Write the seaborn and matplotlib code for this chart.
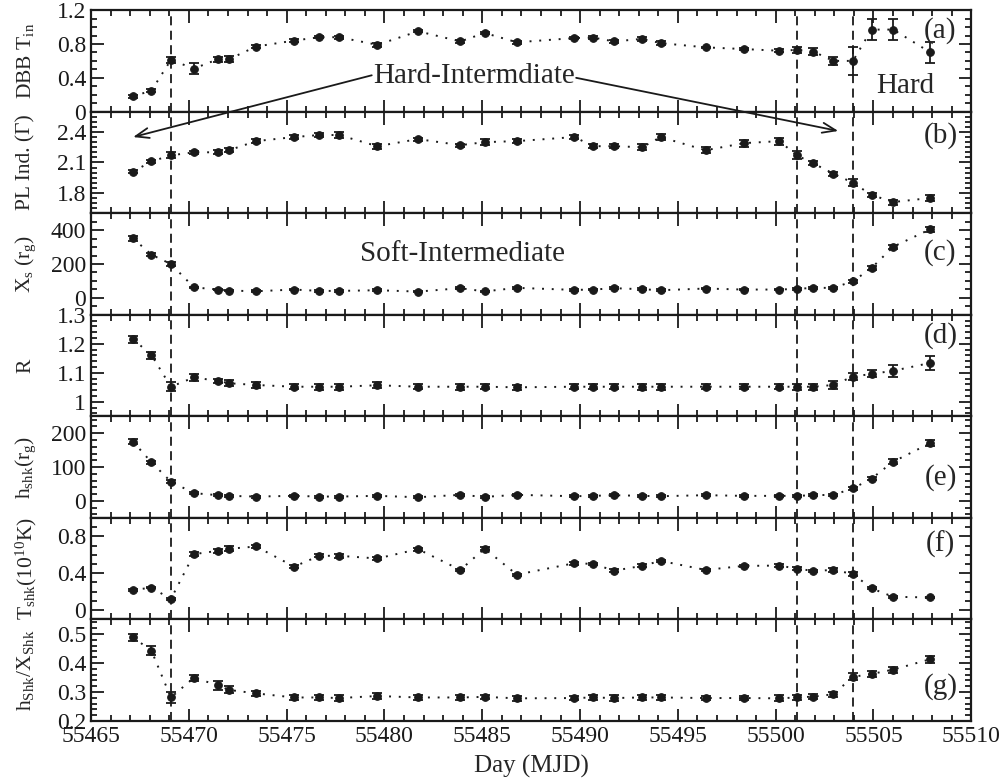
import matplotlib
matplotlib.use("Agg")
import matplotlib.pyplot as plt
from matplotlib.ticker import MultipleLocator, AutoMinorLocator, FuncFormatter
import seaborn as sns

# observation days (MJD)
days = [55467.15, 55468.09, 55469.08, 55470.26, 55471.49, 55472.05, 55473.44, 55475.38,
        55476.67, 55477.68, 55479.64, 55481.72, 55483.88, 55485.12, 55486.77, 55489.71,
        55490.68, 55491.74, 55493.17, 55494.12, 55496.42, 55498.37, 55500.19, 55501.08,
        55501.93, 55502.95, 55503.95, 55504.90, 55506.01, 55507.91]

# (a) DBB inner disk temperature
t_in = [0.18, 0.25, 0.61, 0.51, 0.62, 0.62, 0.77, 0.84, 0.88, 0.88, 0.79, 0.95, 0.83, 0.93, 0.82,
        0.87, 0.875, 0.83, 0.86, 0.81, 0.76, 0.74, 0.72, 0.73, 0.71, 0.60, 0.60, 0.97, 0.97, 0.70]
t_in_err = [0.015, 0.02, 0.04, 0.07, 0.03, 0.035, 0.02, 0.02, 0.015, 0.02, 0.02, 0.01, 0.02, 0.01, 0.015,
            0.015, 0.015, 0.015, 0.02, 0.02, 0.01, 0.01, 0.02, 0.04, 0.04, 0.05, 0.17, 0.12, 0.12, 0.12]

# (b) power-law index
gamma = [2.01, 2.11, 2.17, 2.20, 2.20, 2.22, 2.31, 2.35, 2.37, 2.37, 2.26, 2.33, 2.27, 2.30, 2.31,
         2.35, 2.26, 2.26, 2.25, 2.35, 2.22, 2.29, 2.31, 2.17, 2.09, 1.99, 1.90, 1.78, 1.71, 1.75]
gamma_err = [0.015, 0.015, 0.03, 0.015, 0.02, 0.02, 0.02, 0.02, 0.02, 0.025, 0.025, 0.015, 0.015, 0.03, 0.02,
             0.02, 0.02, 0.02, 0.03, 0.03, 0.03, 0.035, 0.035, 0.04, 0.02, 0.02, 0.035, 0.02, 0.025, 0.025]

# (c) shock location
x_s = [351, 255, 200, 62, 49, 43, 39, 49, 41, 41, 45, 37, 57, 38, 59,
       47, 49, 57, 51, 45, 55, 49, 49, 53, 59, 59, 98, 176, 302, 406]
x_s_err = [15, 10, 10, 5, 5, 5, 5, 5, 5, 5, 5, 5, 5, 5, 5,
           5, 5, 5, 5, 5, 5, 5, 5, 5, 5, 5, 10, 10, 12, 15]

# (d) compression ratio
r_comp = [1.216, 1.161, 1.052, 1.084, 1.072, 1.064, 1.058, 1.052, 1.052, 1.052, 1.057, 1.052, 1.052, 1.052, 1.050,
          1.052, 1.052, 1.052, 1.052, 1.052, 1.052, 1.052, 1.052, 1.052, 1.052, 1.058, 1.087, 1.096, 1.107, 1.134]
r_comp_err = [0.012, 0.012, 0.015, 0.012, 0.008, 0.01, 0.01, 0.008, 0.01, 0.01, 0.01, 0.008, 0.01, 0.008, 0.008,
              0.008, 0.008, 0.008, 0.01, 0.01, 0.008, 0.008, 0.008, 0.01, 0.01, 0.015, 0.012, 0.012, 0.02, 0.025]

# (e) shock height
h_shk = [175, 114, 57, 23, 17, 15, 13, 15, 13, 13, 15, 11, 18, 12, 18,
         14, 15, 17, 15, 14, 17, 15, 15, 15, 17, 18, 37, 66, 116, 171]
h_shk_err = [8, 5, 4, 3, 3, 3, 3, 3, 3, 3, 3, 3, 3, 3, 3,
             3, 3, 3, 3, 3, 3, 3, 3, 3, 3, 3, 5, 5, 7, 9]

# (f) shock temperature
t_shk = [0.218, 0.245, 0.12, 0.607, 0.643, 0.665, 0.69, 0.472, 0.589, 0.589, 0.56, 0.661, 0.436, 0.667, 0.385,
         0.509, 0.501, 0.428, 0.48, 0.534, 0.436, 0.48, 0.483, 0.45, 0.425, 0.436, 0.392, 0.236, 0.145, 0.138]
t_shk_err = [0.01, 0.01, 0.015, 0.02, 0.02, 0.025, 0.02, 0.015, 0.015, 0.02, 0.015, 0.015, 0.015, 0.015, 0.01,
             0.015, 0.015, 0.015, 0.015, 0.015, 0.015, 0.01, 0.015, 0.02, 0.01, 0.02, 0.02, 0.01, 0.01, 0.01]

# (g) h_shk / X_shk
ratio = [0.488, 0.442, 0.281, 0.349, 0.323, 0.307, 0.295, 0.281, 0.281, 0.279, 0.286, 0.281, 0.281, 0.283, 0.278,
         0.279, 0.281, 0.279, 0.281, 0.281, 0.279, 0.279, 0.278, 0.281, 0.284, 0.292, 0.352, 0.362, 0.377, 0.413]
ratio_err = [0.012, 0.015, 0.02, 0.01, 0.015, 0.012, 0.008, 0.01, 0.008, 0.01, 0.01, 0.008, 0.008, 0.008, 0.008,
             0.008, 0.008, 0.01, 0.008, 0.01, 0.008, 0.008, 0.01, 0.01, 0.008, 0.008, 0.012, 0.01, 0.01, 0.012]

# spectral state transition days
transitions = [55469.08, 55501.08, 55503.97]

panels = [
    (t_in, t_in_err, r"DBB T$_{\rm in}$", (0, 1.2), [0, 0.4, 0.8, 1.2], 4, "(a)", 0.80),
    (gamma, gamma_err, "PL Ind. (Γ)", (1.6, 2.6), [1.8, 2.1, 2.4], 6, "(b)", 0.77),
    (x_s, x_s_err, r"X$_{\rm s}$ (r$_{\rm g}$)", (-100, 500), [0, 200, 400], 4, "(c)", 0.61),
    (r_comp, r_comp_err, "R", (0.95, 1.3), [1, 1.1, 1.2, 1.3], 5, "(d)", 0.80),
    (h_shk, h_shk_err, r"h$_{\rm shk}$(r$_{\rm g}$)", (-50, 250), [0, 100, 200], 5, "(e)", 0.40),
    (t_shk, t_shk_err, r"T$_{\rm shk}$(10$^{10}$K)", (-0.1, 1.0), [0, 0.4, 0.8], 4, "(f)", 0.74),
    (ratio, ratio_err, r"h$_{\rm Shk}$/X$_{\rm Shk}$", (0.2, 0.55), [0.2, 0.3, 0.4, 0.5], 5, "(g)", 0.34),
]

sns.set_theme(style="ticks")
plt.rcParams["font.family"] = ["Liberation Serif", "DejaVu Serif"]
plt.rcParams["mathtext.fontset"] = "custom"
plt.rcParams["mathtext.rm"] = "Liberation Serif"
plt.rcParams["mathtext.it"] = "Liberation Serif:italic"

fig, axes = plt.subplots(7, 1, sharex=True, figsize=(10.06, 7.79), dpi=100,
                         gridspec_kw={"hspace": 0})
fig.subplots_adjust(left=0.0905, right=0.9655, top=0.987, bottom=0.0745)

for ax, (vals, errs, label, ylim, yticks, nminor, tag, tag_y) in zip(axes, panels):
    sns.lineplot(x=days, y=vals, ax=ax, color="k", marker="o", markersize=5.5,
                 markeredgecolor="k", linestyle=(0, (1, 4)), linewidth=1.4)
    ax.errorbar(days, vals, yerr=errs, fmt="none", ecolor="k", elinewidth=1.3,
                capsize=3.8, capthick=1.3)
    for t in transitions:
        ax.axvline(t, color="k", linestyle=(0, (5, 3)), linewidth=1.3)
    ax.set_ylim(*ylim)
    ax.set_yticks(yticks)
    ax.yaxis.set_major_formatter(FuncFormatter(lambda v, p: f"{v:g}"))
    ax.yaxis.set_minor_locator(AutoMinorLocator(nminor))
    ax.xaxis.set_major_locator(MultipleLocator(5))
    ax.xaxis.set_minor_locator(MultipleLocator(1))
    ax.tick_params(which="both", direction="in", top=True, right=True,
                   labelsize=17, width=1.3, colors="k")
    ax.tick_params(which="major", length=9)
    ax.tick_params(which="minor", length=4.5)
    for sp in ax.spines.values():
        sp.set_linewidth(1.6)
        sp.set_color("k")
    ax.set_ylabel(label, fontsize=15.5, va="center")
    ax.yaxis.set_label_coords(-0.074, 0.5)
    ax.text(0.965, tag_y, tag, transform=ax.transAxes, fontsize=21,
            ha="center", va="center")

axes[-1].set_xlim(55465, 55510)
axes[-1].set_xlabel("Day (MJD)", fontsize=18, labelpad=6)

# state annotations
axes[0].text(55484.6, 0.42, "Hard-Intermdiate", fontsize=21, ha="center", va="center")
axes[0].text(55506.6, 0.30, "Hard", fontsize=21, ha="center", va="center")
axes[2].text(55484.0, 262, "Soft-Intermediate", fontsize=21, ha="center", va="center")

arrow = dict(arrowstyle="->,head_length=0.8,head_width=0.3", color="k", lw=1.3,
             shrinkA=0, shrinkB=0)
axes[1].annotate("", xy=(55467.15, 2.35), xytext=(55479.35, 0.43),
                 textcoords=axes[0].transData, arrowprops=arrow, annotation_clip=False)
axes[1].annotate("", xy=(55503.2, 2.41), xytext=(55489.8, 0.40),
                 textcoords=axes[0].transData, arrowprops=arrow, annotation_clip=False)

fig.savefig("out.png", dpi=100)
